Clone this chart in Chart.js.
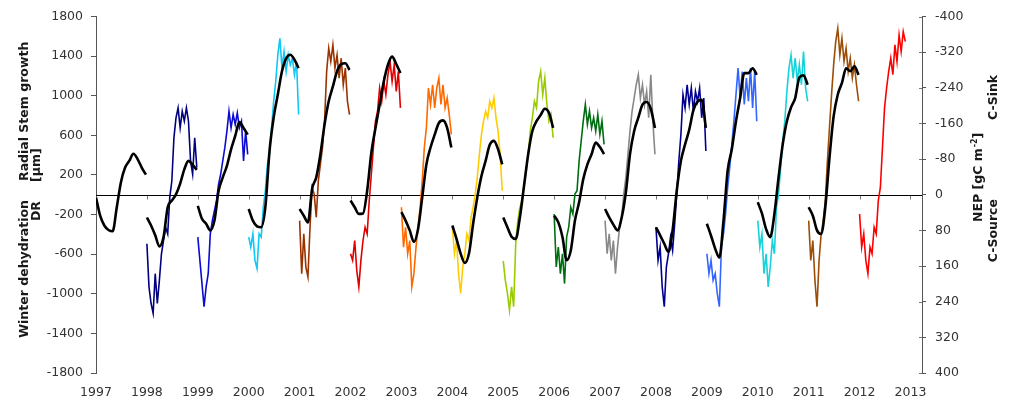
<!DOCTYPE html>
<html>
<head>
<meta charset="utf-8">
<script src="https://cdn.jsdelivr.net/npm/chart.js@4.4.1/dist/chart.umd.min.js"></script>
<style>
  html, body { margin: 0; padding: 0; background: #fff; }
  #wrap { width: 1012px; height: 401px; }
</style>
</head>
<body>
<div id="wrap"><canvas id="chart" width="1012" height="401"></canvas></div>
<script>
// tick labels
const yearTicks = [1997, 1998, 1999, 2000, 2001, 2002, 2003, 2004, 2005, 2006, 2007, 2008, 2009, 2010, 2011, 2012, 2013];
const leftTicks = [-1800, -1400, -1000, -600, -200, 200, 600, 1000, 1400, 1800];
const rightTicks = [-400, -320, -240, -160, -80, 0, 80, 160, 240, 320, 400];

// radial stem growth / winter dehydration [µm], ~half-monthly readings per year
const dr1998 = [-495, -930, -1098, -1198, -797, -1098, -864, -596, -462, -328, -395, -27, 141, 576, 777, 877, 676, 843, 743, 877, 743, 341, 207, 576, 274];
const dr1999 = [-428, -663, -897, -1131, -930, -797, -395, -261, -161, -60, 107, 207, 341, 475, 643, 843, 676, 810, 710, 827, 676, 743, 341, 643, 408];
const dr2000 = [-428, -529, -395, -663, -746, -395, -428, -127, 40, 308, 408, 676, 944, 1145, 1412, 1580, 1279, 1446, 1245, 1412, 1312, 1379, 1212, 1345, 810];
const dr2001 = [-261, -797, -395, -730, -830, -328, 74, 7, -228, 141, 308, 475, 743, 1245, 1479, 1345, 1513, 1279, 1412, 1178, 1379, 1111, 1279, 944, 810];
const dr2002 = [-596, -663, -462, -763, -930, -663, -462, -328, -395, -60, 207, 475, 743, 843, 1078, 944, 1145, 1011, 1212, 1345, 1145, 1312, 1044, 1245, 877];
const dr2003 = [-127, -529, -328, -596, -462, -930, -797, -529, -328, -127, 141, 475, 676, 1078, 911, 1111, 877, 1078, 1178, 911, 1111, 877, 977, 810, 609];
const dr2004 = [-328, -596, -462, -797, -997, -730, -596, -395, -462, -228, -127, 7, 174, 408, 609, 743, 843, 777, 944, 877, 977, 777, 643, 408, 40];
const dr2005 = [-669, -864, -997, -1165, -930, -1131, -495, -261, -127, -60, 107, 241, 408, 643, 777, 944, 877, 1145, 1245, 1011, 1178, 911, 743, 810, 576];
const dr2006 = [-194, -730, -529, -797, -596, -897, -428, -328, -127, -194, 7, 40, 341, 542, 743, 911, 710, 843, 676, 777, 643, 810, 609, 743, 509];
const dr2007 = [-261, -596, -395, -663, -462, -797, -529, -328, -228, 7, 174, 408, 643, 843, 977, 1111, 1212, 977, 1111, 911, 1044, 777, 1212, 743, 408];
const dr2008 = [-328, -663, -529, -930, -1131, -730, -596, -428, -562, -295, 7, 341, 609, 1011, 877, 1111, 911, 1078, 843, 1044, 944, 1078, 777, 977, 442];
const dr2009 = [-596, -797, -663, -864, -797, -997, -1131, -529, -395, -194, 74, 274, 509, 743, 1011, 1279, 977, 1245, 911, 1178, 944, 1279, 877, 1245, 743];
const dr2010 = [-261, -529, -395, -797, -596, -930, -730, -462, -596, -127, 7, 274, 542, 743, 1044, 1279, 1412, 1178, 1379, 1145, 1312, 1111, 1446, 1078, 944];
const dr2011 = [-261, -663, -462, -864, -1131, -663, -395, -261, -60, 341, 676, 1011, 1312, 1546, 1680, 1412, 1580, 1345, 1479, 1245, 1379, 1178, 1312, 1111, 944];
const dr2012 = [-194, -529, -395, -663, -797, -529, -596, -328, -395, -60, 74, 475, 877, 1078, 1245, 1379, 1212, 1513, 1345, 1613, 1446, 1647, 1546];

// cumulative NEP [gC m-2], monthly readings per year (right axis)
const nep1997 = [6, 47, 69, 79, 82, 28, -28, -61, -76, -92, -80, -61, -45];
const nep1998 = [51, 69, 91, 116, 95, 28, 13, -1, -25, -57, -76, -67, -56];
const nep1999 = [25, 54, 65, 80, 58, -9, -39, -65, -102, -132, -163, -150, -135];
const nep2000 = [32, 58, 71, 73, 28, -98, -173, -225, -277, -306, -314, -303, -284];
const nep2001 = [32, 47, 62, -13, -39, -91, -158, -210, -243, -277, -293, -295, -280];
const nep2002 = [13, 28, 43, 42, -9, -94, -150, -202, -254, -292, -310, -293, -273];
const nep2003 = [39, 58, 80, 106, 77, 6, -68, -106, -135, -161, -167, -150, -106];
const nep2004 = [69, 99, 132, 153, 132, 65, 6, -42, -76, -112, -121, -102, -68];
const nep2005 = [51, 73, 94, 99, 51, -20, -91, -143, -165, -179, -193, -184, -150];
const nep2006 = [47, 62, 95, 147, 125, 58, 17, -35, -68, -91, -117, -107, -91];
const nep2007 = [32, 51, 67, 80, 51, -5, -91, -143, -173, -202, -208, -193, -150];
const nep2008 = [73, 91, 110, 128, 80, -9, -76, -113, -146, -190, -209, -213, -150];
const nep2009 = [65, 92, 121, 141, 58, -54, -102, -165, -217, -273, -273, -284, -269];
const nep2010 = [17, 42, 77, 95, 43, -39, -113, -165, -196, -217, -263, -268, -247];
const nep2011 = [28, 47, 80, 88, 28, -83, -176, -225, -251, -284, -277, -288, -269];

const growthYears = [1998, 1999, 2000, 2001, 2002, 2003, 2004, 2005, 2006, 2007, 2008, 2009, 2010, 2011, 2012];
const growthSeries = [dr1998, dr1999, dr2000, dr2001, dr2002, dr2003, dr2004, dr2005, dr2006, dr2007, dr2008, dr2009, dr2010, dr2011, dr2012];
const growthColors = ['#00007f', '#0a0ad0', '#10c8f4', '#9a3300', '#e00000', '#ff6a00', '#ffcc00', '#99cc00', '#006e10', '#888888', '#00008f', '#3366ff', '#18d2da', '#9c4e08', '#ff0000'];

const nepYears = [1997, 1998, 1999, 2000, 2001, 2002, 2003, 2004, 2005, 2006, 2007, 2008, 2009, 2010, 2011];
const nepSeries = [nep1997, nep1998, nep1999, nep2000, nep2001, nep2002, nep2003, nep2004, nep2005, nep2006, nep2007, nep2008, nep2009, nep2010, nep2011];

const FONT = '"DejaVu Sans", Verdana, sans-serif';

const datasets = [];
growthSeries.forEach((vals, i) => {
  const yr = growthYears[i];
  datasets.push({
    label: 'DR ' + yr,
    data: vals.map((v, k) => ({ x: yr + k * 0.98 / 24, y: v })),
    borderColor: growthColors[i], borderWidth: 1.6,
    pointRadius: 0, tension: 0, yAxisID: 'y', order: 1
  });
});
nepSeries.forEach((vals, i) => {
  const yr = nepYears[i];
  datasets.push({
    label: 'NEP ' + yr,
    data: vals.map((v, k) => ({ x: yr + k * 0.98 / 12, y: v })),
    borderColor: '#000', borderWidth: 2.6,
    pointRadius: 0, cubicInterpolationMode: 'monotone', yAxisID: 'y2', order: 0
  });
});

function vtext(ctx, str, cx, cy, align) {
  ctx.save();
  ctx.translate(cx, cy);
  ctx.rotate(-Math.PI / 2);
  ctx.textAlign = align;
  ctx.textBaseline = 'middle';
  ctx.fillText(str, 0, 0);
  ctx.restore();
}

const decor = {
  id: 'decor',
  beforeDatasetsDraw(chart) {
    const { ctx, scales: { x, y, y2 } } = chart;
    const y0 = Math.round(y.getPixelForValue(0)) + 0.5;
    ctx.save();
    ctx.lineWidth = 1;
    ctx.strokeStyle = '#777';
    ctx.beginPath();
    x.ticks.forEach(t => {
      const px = Math.round(x.getPixelForValue(t.value)) + 0.5;
      ctx.moveTo(px, y0); ctx.lineTo(px, y0 + 4);
    });
    y2.ticks.forEach(t => {
      const py = Math.round(y2.getPixelForValue(t.value)) + 0.5;
      ctx.moveTo(x.right - 3, py); ctx.lineTo(x.right, py);
    });
    ctx.stroke();
    ctx.strokeStyle = '#000';
    ctx.beginPath();
    ctx.moveTo(x.left, y0); ctx.lineTo(x.right, y0);
    ctx.stroke();
    ctx.restore();
  },
  afterDraw(chart) {
    const { ctx } = chart;
    ctx.save();
    ctx.fillStyle = '#1a1a1a';
    ctx.font = 'bold 12.5px ' + FONT;
    vtext(ctx, 'Radial Stem growth', 25, 181, 'left');
    vtext(ctx, '[µm]', 37, 182, 'left');
    vtext(ctx, 'Winter dehydration', 25, 200, 'right');
    vtext(ctx, 'DR', 37, 201, 'right');
    vtext(ctx, 'C-Sink', 994, 120, 'left');
    vtext(ctx, 'C-Source', 994, 199, 'right');
    // NEP [gC m-2] with superscript
    ctx.translate(979, 222);
    ctx.rotate(-Math.PI / 2);
    ctx.textAlign = 'left';
    ctx.textBaseline = 'middle';
    const a = 'NEP [gC m';
    ctx.fillText(a, 0, 0);
    let w = ctx.measureText(a).width;
    ctx.font = 'bold 8px ' + FONT;
    ctx.fillText('-2', w + 1, -4);
    w += ctx.measureText('-2').width + 1;
    ctx.font = 'bold 12.5px ' + FONT;
    ctx.fillText(']', w, 0);
    ctx.restore();
  }
};

const tickFont = { family: FONT, size: 12.5 };

new Chart(document.getElementById('chart'), {
  type: 'line',
  data: { datasets },
  options: {
    responsive: false,
    animation: false,
    layout: { padding: { top: 15, left: 0, right: 0, bottom: 0 } },
    plugins: { legend: { display: false }, tooltip: { enabled: false } },
    scales: {
      x: {
        type: 'linear', position: 'bottom', min: 1997, max: 2013.226,
        afterBuildTicks: s => { s.ticks = yearTicks.map(v => ({ value: v })); },
        afterFit: s => { s.height = 28; },
        grid: { display: false, drawTicks: false },
        border: { display: false },
        ticks: { callback: v => String(v), color: '#333', font: tickFont, padding: 12, maxRotation: 0, autoSkip: false }
      },
      y: {
        position: 'left', min: -1800, max: 1800,
        afterBuildTicks: s => { s.ticks = leftTicks.map(v => ({ value: v })); },
        afterFit: s => { s.width = 96; },
        grid: { drawOnChartArea: false, tickLength: 5, tickColor: '#555' },
        border: { color: '#555' },
        ticks: { callback: v => String(v), color: '#333', font: tickFont, padding: 8 }
      },
      y2: {
        position: 'right', min: -400, max: 400, reverse: true,
        afterBuildTicks: s => { s.ticks = rightTicks.map(v => ({ value: v })); },
        afterFit: s => { s.width = 90; },
        grid: { drawOnChartArea: false, tickLength: 4, tickColor: '#555' },
        border: { color: '#555' },
        ticks: { callback: v => String(v), color: '#333', font: tickFont, padding: 9 }
      }
    }
  },
  plugins: [decor]
});
</script>
</body>
</html>
